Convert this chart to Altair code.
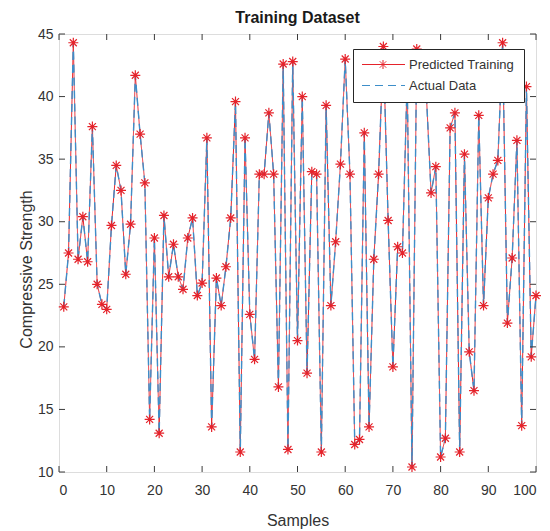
import altair as alt
import pandas as pd

# ---------------- data ----------------
samples = list(range(1, 101))
values = [
    23.2, 27.5, 44.3, 27.0, 30.4, 26.8, 37.6, 25.0, 23.4, 23.0,
    29.7, 34.5, 32.5, 25.8, 29.8, 41.7, 37.0, 33.1, 14.2, 28.7,
    13.1, 30.5, 25.6, 28.2, 25.6, 24.6, 28.7, 30.3, 24.1, 25.1,
    36.7, 13.6, 25.5, 23.3, 26.4, 30.3, 39.6, 11.6, 36.7, 22.6,
    19.0, 33.8, 33.8, 38.7, 33.8, 16.8, 42.6, 11.8, 42.8, 20.5,
    40.0, 17.9, 34.0, 33.8, 11.6, 39.3, 23.3, 28.4, 34.6, 43.0,
    33.8, 12.2, 12.6, 37.1, 13.6, 27.0, 33.8, 44.0, 30.1, 18.4,
    28.0, 27.5, 41.5, 10.4, 43.8, 41.0, 40.3, 32.3, 34.4, 11.2,
    12.7, 37.5, 38.7, 11.6, 35.4, 19.6, 16.5, 38.5, 23.3, 31.9,
    33.8, 34.9, 44.3, 21.9, 27.1, 36.5, 13.7, 40.8, 19.2, 24.1,
]
series_names = ["Predicted Training", "Actual Data"]
x_ticks = [0, 10, 20, 30, 40, 50, 60, 70, 80, 90, 100]
y_ticks = [10, 15, 20, 25, 30, 35, 40, 45]

pred_df = pd.DataFrame({"sample": samples, "value": values, "series": series_names[0]})
act_df = pd.DataFrame({"sample": samples, "value": values, "series": series_names[1]})
xt_df = pd.DataFrame({"sample": x_ticks})
yt_df = pd.DataFrame({"value": y_ticks})

# ---------------- style ----------------
FONT = "Liberation Sans"
RED = "#e5232b"
BLUE = "#3d8ec9"
AXIS = "#3a3a3a"
TEXT = "#333333"

STAR = "M0,-1L0,1M-1,0L1,0M-0.7,-0.7L0.7,0.7M-0.7,0.7L0.7,-0.7"
LEG_PRED = ("M-6.5,0L36.5,0M14.5,-4.5L14.5,4.5M10,0L19,0"
            "M11.3,-3.2L17.7,3.2M11.3,3.2L17.7,-3.2")
LEG_ACT = "M-6.5,0L36.5,0"

x_scale = alt.Scale(domain=[0, 100], nice=False, zero=False)
y_scale = alt.Scale(domain=[10, 45], nice=False, zero=False)

x_axis = alt.Axis(
    values=x_ticks, format="d", domain=False, ticks=False, tickSize=0, grid=False,
    labelPadding=11, labelFontSize=14, labelFont=FONT, labelColor=TEXT,
    title="Samples", titleFontSize=16, titleFont=FONT, titleFontWeight="normal",
    titleColor=TEXT, titleBaseline="alphabetic", titleY=53,
)
y_axis = alt.Axis(
    values=y_ticks, format="d", domain=False, ticks=False, tickSize=0, grid=False,
    labelPadding=6, labelFontSize=14, labelFont=FONT, labelColor=TEXT,
    title="Compressive Strength", titleFontSize=16, titleFont=FONT,
    titleFontWeight="normal", titleColor=TEXT, titleAngle=270,
    titleBaseline="bottom", titleAlign="center", titleX=-25, titleY=235,
)


def xf(field="sample"):
    return alt.X(field, type="quantitative", scale=x_scale, axis=x_axis)


def yf(field="value"):
    return alt.Y(field, type="quantitative", scale=y_scale, axis=y_axis)


legend = alt.Legend(
    title=None, orient="none", legendX=294, legendY=15,
    fillColor="white", strokeColor="#262626", padding=9, cornerRadius=0,
    labelFont=FONT, labelFontSize=13, labelColor=TEXT, labelOffset=34,
    symbolSize=4, symbolStrokeWidth=1, rowPadding=7, symbolOpacity=1,
)
color = alt.Color("series:N", scale=alt.Scale(domain=series_names, range=[RED, BLUE]),
                  legend=legend)
dash = alt.StrokeDash("series:N", scale=alt.Scale(domain=series_names, range=[[1, 0], [8, 5]]),
                      legend=legend)
shape = alt.Shape("series:N", scale=alt.Scale(domain=series_names, range=[LEG_PRED, LEG_ACT]),
                  legend=legend)

pred_line = alt.Chart(pred_df).mark_line(strokeWidth=1).encode(
    x=xf(), y=yf(), color=color, strokeDash=dash)
act_line = alt.Chart(act_df).mark_line(strokeWidth=1.4).encode(
    x=xf(), y=yf(), color=color, strokeDash=dash)
pred_pts = alt.Chart(pred_df).mark_point(
    shape=STAR, filled=False, color=RED, size=100, strokeWidth=1.2, opacity=1
).encode(x=xf(), y=yf())
# legend-only layer (no rows survive the filter) that supplies legend symbol shapes
legend_layer = alt.Chart(pred_df).mark_point(filled=False, opacity=1, strokeWidth=1).encode(
    x=xf(), y=yf(), color=color, shape=shape, strokeDash=dash
).transform_filter("false")

# inward box ticks
tick_style = dict(size=6, thickness=1, color=AXIS, opacity=1)
bottom_t = alt.Chart(xt_df).mark_tick(orient="vertical", yOffset=-3, **tick_style).encode(
    x=xf(), y=alt.YDatum(10, type="quantitative", scale=y_scale, axis=y_axis))
top_t = alt.Chart(xt_df).mark_tick(orient="vertical", yOffset=3, **tick_style).encode(
    x=xf(), y=alt.YDatum(45, type="quantitative", scale=y_scale, axis=y_axis))
left_t = alt.Chart(yt_df).mark_tick(orient="horizontal", xOffset=3, **tick_style).encode(
    y=yf(), x=alt.XDatum(0, type="quantitative", scale=x_scale, axis=x_axis))
right_t = alt.Chart(yt_df).mark_tick(orient="horizontal", xOffset=-3, **tick_style).encode(
    y=yf(), x=alt.XDatum(100, type="quantitative", scale=x_scale, axis=x_axis))

chart = alt.layer(pred_line, act_line, pred_pts, legend_layer,
                  bottom_t, top_t, left_t, right_t).properties(
    width=477, height=438,
    autosize=alt.AutoSizeParams(type="none"),
    padding={"left": 59, "top": 34, "right": 14, "bottom": 59},
    title=alt.Title("Training Dataset", fontSize=16, fontWeight="bold", font=FONT,
                    color="#1a1a1a", offset=1, frame="group", anchor="middle"),
    background="white",
).configure_view(stroke=AXIS, strokeWidth=1).configure(font=FONT)

chart.save("out.html", embed_options={"renderer": "svg", "actions": False})
